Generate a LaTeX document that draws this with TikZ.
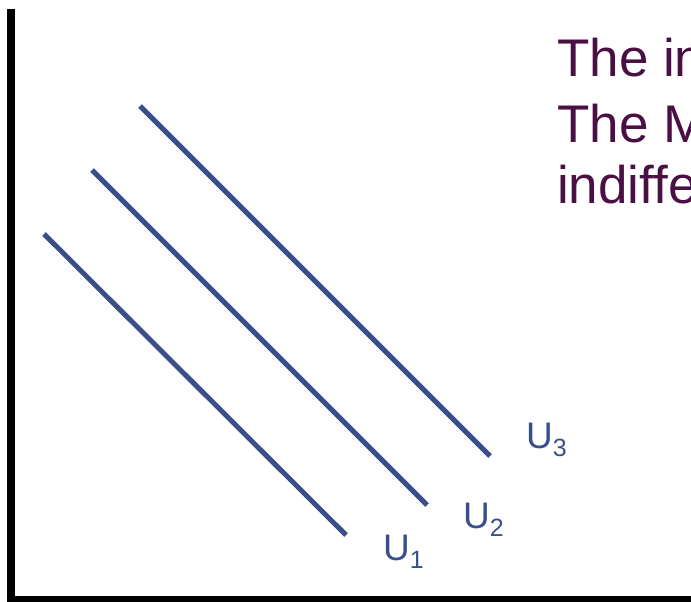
\documentclass[tikz,border=0pt]{standalone}
\usepackage{fontspec}
\setmainfont{Liberation Sans}
\definecolor{txtpurple}{HTML}{4A1043}
\definecolor{curveblue}{HTML}{3A4E8A}
\begin{document}
\begin{tikzpicture}[x=1pt,y=-1pt,
  axis/.style={line width=8pt,black},
  curve/.style={line width=5pt,curveblue},
  ulabel/.style={anchor=base west,inner sep=0pt,text=curveblue,font=\fontsize{37}{40}\selectfont},
  headline/.style={anchor=base west,inner sep=0pt,text=txtpurple,font=\fontsize{53}{63}\selectfont}]
\useasboundingbox (0,0) rectangle (691,602);
\clip (0,0) rectangle (691,602);
% axes
\coordinate (top) at (11,9);
\coordinate (origin) at (11,600);
\coordinate (right) at (695,600);
\draw[axis] (top) -- (11,604);
\draw[axis] (7,600) -- (right);
% indifference curves
\coordinate (u1a) at (44,234);
\coordinate (u1b) at (346,535);
\coordinate (u2a) at (92,170);
\coordinate (u2b) at (427,505);
\coordinate (u3a) at (140,106);
\coordinate (u3b) at (490,456);
\draw[curve] (u1a) -- (u1b);
\draw[curve] (u2a) -- (u2b);
\draw[curve] (u3a) -- (u3b);
% labels
\node[ulabel] (l1) at (383,560) {U\raisebox{-8pt}{\fontsize{25}{28}\selectfont 1}};
\node[ulabel] (l2) at (463,528) {U\raisebox{-8pt}{\fontsize{25}{28}\selectfont 2}};
\node[ulabel] (l3) at (526,448) {U\raisebox{-8pt}{\fontsize{25}{28}\selectfont 3}};
% text
\node[headline] (t1) at (557,77) {The in};
\node[headline] (t2) at (557,142) {The M};
\node[headline] (t3) at (557,203) {indiffe};
\end{tikzpicture}
\end{document}
